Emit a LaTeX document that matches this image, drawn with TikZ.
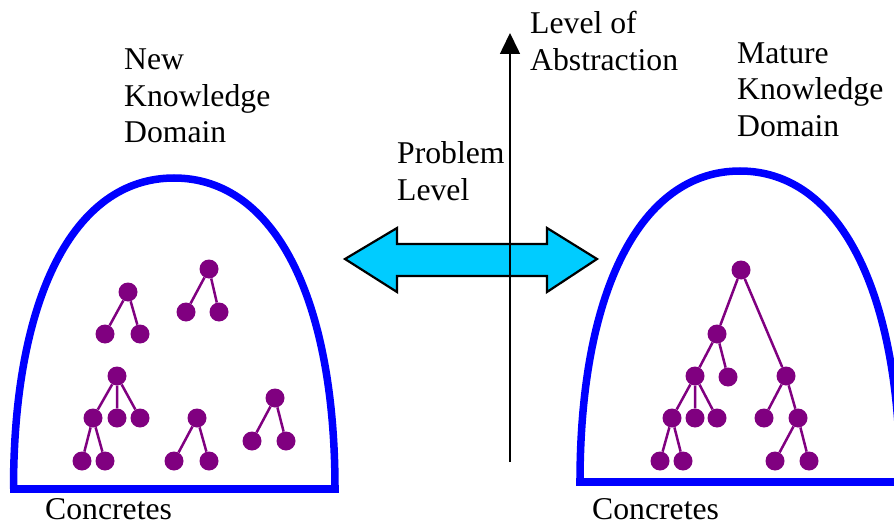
\documentclass[tikz,border=0pt]{standalone}
\usepackage{fontspec}
\setmainfont{Liberation Serif}
\usetikzlibrary{arrows.meta}

\definecolor{treepurple}{RGB}{128,0,128}
\definecolor{arrowcyan}{RGB}{0,204,255}

\tikzset{
  dome/.style={draw=blue, line width=7.5pt},
  dot/.style={circle, fill=treepurple, inner sep=0pt, minimum size=19pt},
  branch/.style={draw=treepurple, line width=2.5pt},
  words/.style={inner sep=0pt, align=left, font=\fontsize{31.7}{36.5}\selectfont},
}

\begin{document}
\begin{tikzpicture}[x=1pt,y=-1pt]
  \useasboundingbox (0,0) rectangle (894,524);
  \clip (0,0) rectangle (894,524);

  % Draw the two domes
  \draw[dome] (13.5,489) .. controls (13.5,299) and (73,178) .. (174,178)
              .. controls (275,178) and (335,299) .. (335,489);
  \draw[dome] (10,489) -- (339,489);
  \draw[dome] (580,482) .. controls (580,292) and (640,171) .. (740,171)
              .. controls (840,171) and (900,292) .. (900,482);
  \draw[dome] (576,482) -- (894,482);

  % Draw the small trees of the new domain
  \node[dot] (a) at (128,292) {};
  \node[dot] (a1) at (105,334) {};
  \node[dot] (a2) at (140,334) {};
  \draw[branch] (a) -- (a1) (a) -- (a2);

  \node[dot] (b) at (209,269) {};
  \node[dot] (b1) at (186,312) {};
  \node[dot] (b2) at (219,312) {};
  \draw[branch] (b) -- (b1) (b) -- (b2);

  \node[dot] (c) at (117,376) {};
  \node[dot] (c1) at (93,418) {};
  \node[dot] (c2) at (117,418) {};
  \node[dot] (c3) at (140,418) {};
  \node[dot] (c11) at (82,461) {};
  \node[dot] (c12) at (105,461) {};
  \draw[branch] (c) -- (c1) (c) -- (c2) (c) -- (c3) (c1) -- (c11) (c1) -- (c12);

  \node[dot] (d) at (197,418) {};
  \node[dot] (d1) at (174,461) {};
  \node[dot] (d2) at (209,461) {};
  \draw[branch] (d) -- (d1) (d) -- (d2);

  \node[dot] (e) at (275,398) {};
  \node[dot] (e1) at (252,441) {};
  \node[dot] (e2) at (286,441) {};
  \draw[branch] (e) -- (e1) (e) -- (e2);

  % Draw the one big tree of the mature domain
  \node[dot] (r) at (741,270) {};
  \node[dot] (r1) at (717,334) {};
  \node[dot] (r2) at (786,376) {};
  \node[dot] (r11) at (695,376) {};
  \node[dot] (r12) at (728,377) {};
  \node[dot] (r111) at (672,418) {};
  \node[dot] (r112) at (695,418) {};
  \node[dot] (r113) at (717,418) {};
  \node[dot] (r1111) at (660,461) {};
  \node[dot] (r1112) at (683,461) {};
  \node[dot] (r21) at (764,418) {};
  \node[dot] (r22) at (798,418) {};
  \node[dot] (r221) at (775,461) {};
  \node[dot] (r222) at (809,461) {};
  \draw[branch] (r) -- (r1) (r) -- (r2) (r1) -- (r11) (r1) -- (r12)
                (r11) -- (r111) (r11) -- (r112) (r11) -- (r113)
                (r111) -- (r1111) (r111) -- (r1112)
                (r2) -- (r21) (r2) -- (r22) (r22) -- (r221) (r22) -- (r222);

  % Draw the problem level double arrow
  \draw[line width=2.2pt, fill=arrowcyan, line join=miter]
    (345,259) -- (397,228) -- (397,244) -- (547,244) -- (547,228) -- (597,259)
    -- (547,292) -- (547,276) -- (397,276) -- (397,292) -- cycle;

  % Draw the abstraction axis
  \coordinate (axbot) at (510,462);
  \coordinate (axtop) at (510,33);
  \draw[line width=1.6pt, -{Triangle[length=21pt,width=20pt]}] (axbot) -- (axtop);

  % Draw labels
  \node[words, anchor=north west] (newdom) at (124,49) {New\\Knowledge\\Domain};
  \node[words, anchor=north west] (maturedom) at (737,42.3) {Mature\\Knowledge\\Domain};
  \node[words, anchor=north west] (abstr) at (530,11.4) {Level of\\Abstraction};
  \node[words, anchor=north west] (problem) at (397,141.4) {Problem\\Level};
  \node[words, anchor=base west] (concl) at (45,519.5) {Concretes};
  \node[words, anchor=base west] (concr) at (592,519.5) {Concretes};
\end{tikzpicture}
\end{document}
